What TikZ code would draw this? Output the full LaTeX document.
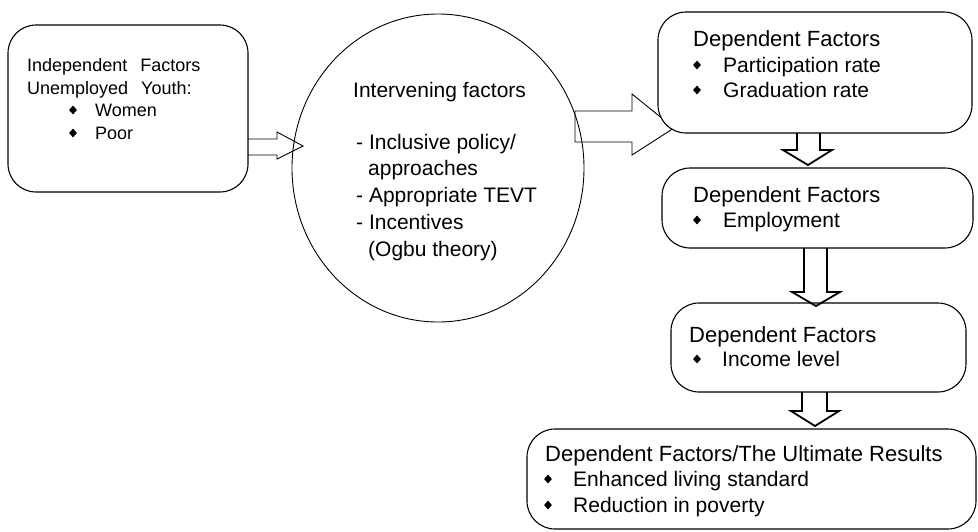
\documentclass[tikz,border=0pt]{standalone}
\usepackage{fontspec}
\setmainfont{Liberation Sans}
\usetikzlibrary{shapes.geometric}
\newcommand\mywidesp{\spaceskip=13pt\relax}
\begin{document}
\begin{tikzpicture}[x=1pt,y=-1pt,
  box/.style={draw, line width=1.1pt, rounded corners=28pt, fill=white, inner sep=0, outer sep=0},
  ell/.style={draw, ellipse, line width=0.9pt, inner sep=0, outer sep=0},
  thinarrow/.style={draw, line width=0.9pt, line join=miter},
  thickarrow/.style={draw, line width=1.8pt, line join=miter},
  bul/.style={diamond, fill=black, draw=none, minimum width=8pt, minimum height=9pt, inner sep=0},
  head/.style={anchor=base west, inner sep=0, font=\fontsize{22}{26}\selectfont},
  txt/.style={anchor=base west, inner sep=0, font=\fontsize{21}{25}\selectfont},
  small/.style={anchor=base west, inner sep=0, font=\fontsize{18}{22}\selectfont\mywidesp}
]
\useasboundingbox (0,0) rectangle (978,531);

% ellipse (intervening factors)
\node[ell, minimum width=292pt, minimum height=308pt] (ell) at (438,168) {};

% box 1
\node[box, minimum width=240pt, minimum height=167pt] (b1) at (128,108.5) {};
\node[small] (b1t1) at (27,71) {Independent Factors};
\node[small] (b1t2) at (27,94) {Unemployed Youth:};
\node[bul] (b1d1) at (73,110) {};
\node[small] (b1t3) at (95,116) {Women};
\node[bul] (b1d2) at (73,133) {};
\node[small] (b1t4) at (95,139) {Poor};

% arrow 1
\draw[thinarrow] (b1.east |- 0,139) -- (277,139) -- (277,132) -- (303,146) -- (277,159) -- (277,155) -- (b1.east |- 0,155);

% arrow 2 (under box 2)
\draw[thinarrow] (575,111) -- (632,111) -- (632,94) -- (674,128) -- (632,155) -- (632,142) -- (575,142) -- cycle;

% intervening text
\node[txt] (e1) at (353,97) {Intervening factors};
\node[txt] (e2) at (356,149) {- Inclusive policy/};
\node[txt] (e3) at (368,175) {approaches};
\node[txt] (e4) at (356,202) {- Appropriate TEVT};
\node[txt] (e5) at (356,229) {- Incentives};
\node[txt] (e6) at (368,256) {(Ogbu theory)};

% box 2
\node[box, minimum width=314pt, minimum height=121pt] (b2) at (815,72.5) {};
\node[head] (b2t1) at (693,46) {Dependent Factors};
\node[bul] (b2d1) at (697,65) {};
\node[txt] (b2t2) at (723,72) {Participation rate};
\node[bul] (b2d2) at (697,90) {};
\node[txt] (b2t3) at (723,97) {Graduation rate};

% box 3
\node[box, minimum width=311pt, minimum height=80pt] (b3) at (817.5,208) {};
\node[head] (b3t1) at (693,202) {Dependent Factors};
\node[bul] (b3d1) at (697,220) {};
\node[txt] (b3t2) at (723,227) {Employment};

% box 4
\node[box, minimum width=295pt, minimum height=89pt] (b4) at (818.5,347.5) {};
\node[head] (b4t1) at (689,342) {Dependent Factors};
\node[bul] (b4d1) at (697,359) {};
\node[txt] (b4t2) at (722,366) {Income level};

% box 5
\node[box, minimum width=449pt, minimum height=100pt] (b5) at (751.5,479) {};
\node[head] (b5t1) at (545,461) {Dependent Factors/The Ultimate Results};
\node[bul] (b5d1) at (548,479) {};
\node[txt] (b5t2) at (573,486) {Enhanced living standard};
\node[bul] (b5d2) at (548,505) {};
\node[txt] (b5t3) at (573,512) {Reduction in poverty};

% arrow 3
\draw[thickarrow] (797,0 |- b2.south) -- (797,150) -- (783,150) -- (808,165) -- (832,150) -- (820,150) -- (820,0 |- b2.south);
% arrow 4
\draw[thickarrow] (804,0 |- b3.south) -- (804,292) -- (792,292) -- (816,306) -- (840,292) -- (827,292) -- (827,0 |- b3.south);
% arrow 5
\draw[thickarrow] (802,0 |- b4.south) -- (802,411) -- (791,411) -- (815,426) -- (839,411) -- (827,411) -- (827,0 |- b4.south);
\end{tikzpicture}
\end{document}
